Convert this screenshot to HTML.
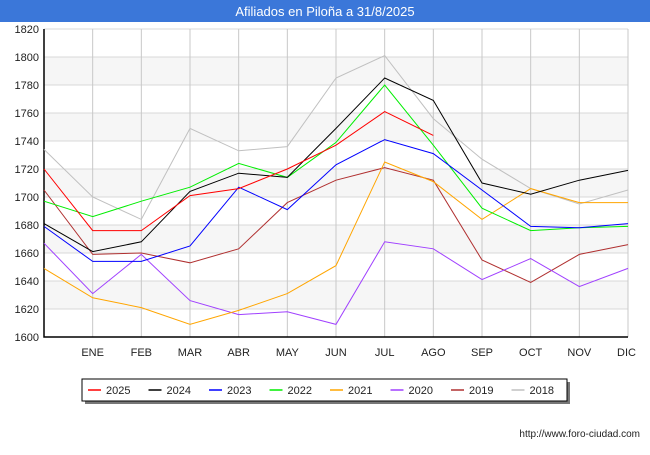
<!DOCTYPE html>
<html><head><meta charset="utf-8"><style>
body{margin:0;width:650px;height:450px;background:#fff;font-family:"Liberation Sans",sans-serif;overflow:hidden}
</style></head><body>
<svg width="650" height="450" id="c" font-family="Liberation Sans, sans-serif">
<rect x="0" y="0" width="650" height="22" fill="#3b77d9"/>
<text x="325" y="16" text-anchor="middle" fill="#fff" font-size="13">Afiliados en Piloña a 31/8/2025</text>
<g id="grid"></g><g id="series"></g>
<text x="640" y="437" text-anchor="end" font-size="10" fill="#222">http://www.foro-ciudad.com</text>
<g id="legend"></g>
</svg>
<script>
const months=["ENE","FEB","MAR","ABR","MAY","JUN","JUL","AGO","SEP","OCT","NOV","DIC"];
const yTicks=[1600,1620,1640,1660,1680,1700,1720,1740,1760,1780,1800,1820];
const years=["2025","2024","2023","2022","2021","2020","2019","2018"];
const colors=["#ff0000","#000000","#0000ff","#00ee00","#ffa500","#a040ff","#b03030","#c0c0c0"];
const s2025=[1720,1676,1676,1701,1706,1720,1737,1761,1744];
const s2024=[1681,1661,1668,1704,1717,1714,1749,1785,1769,1710,1702,1712,1719];
const s2023=[1679,1654,1654,1665,1707,1691,1723,1741,1731,1705,1679,1678,1681];
const s2022=[1697,1686,1697,1707,1724,1714,1739,1780,1737,1692,1676,1678,1679];
const s2021=[1649,1628,1621,1609,1619,1631,1651,1725,1711,1684,1706,1696,1696];
const s2020=[1667,1631,1659,1626,1616,1618,1609,1668,1663,1641,1656,1636,1649];
const s2019=[1705,1659,1660,1653,1663,1696,1712,1721,1712,1655,1639,1659,1666];
const s2018=[1734,1700,1684,1749,1733,1736,1785,1801,1756,1727,1706,1695,1705];
const seriesData=[s2025,s2024,s2023,s2022,s2021,s2020,s2019,s2018];
const NS="http://www.w3.org/2000/svg";
const X0=44,X1=628,Y0=337,Y1=29;
const xs=i=>X0+i*(X1-X0)/12;
const ys=v=>Y0-(v-1600)*(Y0-Y1)/220;
function mk(t,a,p){const e=document.createElementNS(NS,t);for(const k in a)e.setAttribute(k,a[k]);p.appendChild(e);return e;}
const g=document.getElementById('grid');
for(let i=0;i<yTicks.length-1;i++){if(i%2==1){const r=mk('rect',{x:X0,y:ys(yTicks[i+1]),width:X1-X0,height:ys(yTicks[i])-ys(yTicks[i+1]),fill:'#f6f6f6'},g);

}}
yTicks.forEach(v=>{const l=mk('line',{x1:X0,x2:X1,y1:ys(v),y2:ys(v),stroke:'#d8d8d8'},g);


const t=mk('text',{x:X0-5,y:ys(v)+4,'text-anchor':'end','font-size':11,fill:'#222'},g);t.textContent=v;

});
months.forEach((m,i)=>{const x=xs(i+1);const l=mk('line',{x1:x,x2:x,y1:Y1,y2:Y0,stroke:'#c8c8c8'},g);


const t=mk('text',{x:x,y:356,'text-anchor':i==11?'end':'middle','font-size':11,fill:'#222'},g);t.textContent=m;if(i==11)t.setAttribute('x',X1+8);

});
const ax=mk('path',{d:`M${X0} ${Y1}V${Y0}H${X1}`,stroke:'#000',fill:'none','stroke-width':1.5},g);


const sg=document.getElementById('series');
for(let k=seriesData.length-1;k>=0;k--){const d=seriesData[k].map((v,i)=>(i?'L':'M')+xs(i).toFixed(1)+' '+ys(v).toFixed(1)).join('');
const p=mk('path',{d:d,stroke:colors[k],fill:'none','stroke-width':1},sg);

}
const lg=document.getElementById('legend');
mk('rect',{x:85,y:382,width:485,height:22,fill:'#777'},lg);
const box=mk('rect',{x:82,y:379,width:485,height:22,fill:'#fff',stroke:'#000'},lg);


years.forEach((y,i)=>{const x=88+i*60.5;const l=mk('line',{x1:x,x2:x+13,y1:390,y2:390,stroke:colors[i],'stroke-width':1.5},lg);


const t=mk('text',{x:x+18,y:394,'font-size':11,fill:'#222'},lg);t.textContent=y;

});
</script>
</body></html>
